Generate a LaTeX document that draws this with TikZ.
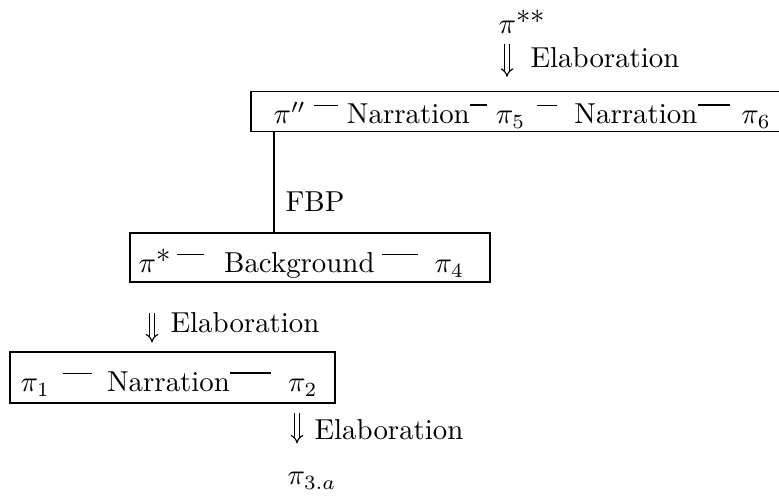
\documentclass[tikz,border=0pt]{standalone}
\usetikzlibrary{arrows.meta}
\begin{document}
\begin{tikzpicture}[x=0.3466pt, y=-0.3466pt,
  t/.style={anchor=base west, inner sep=0pt},
  box/.style={draw, line width=0.4pt, inner sep=0pt},
  dashln/.style={line width=0.45pt},
  dbl/.style={double, double distance=1.1pt, line width=0.4pt, -{Implies}},
  link/.style={line width=0.4pt}]
\useasboundingbox (0,0) rectangle (779,498);

% boxes
\node[box, minimum width=185.1pt, minimum height=13.9pt] (boxA) at (518,111.5) {};
\node[box, minimum width=124.8pt, minimum height=17.0pt] (boxB) at (310,257.5) {};
\node[box, minimum width=112.6pt, minimum height=17.7pt] (boxC) at (172.5,377.5) {};

% top
\node[t] (pss) at (498,34) {$\pi^{\textstyle **}$};
\node[t] (lab1) at (530,68) {Elaboration};
\coordinate (ax1) at (507,0);
\draw[dbl, shorten <=3.1pt, shorten >=4.85pt] (ax1 |- pss.south) -- (ax1 |- boxA.north);

% top box contents
\node[t] (a1) at (273,124) {$\pi''$};
\node[t] (a2) at ([xshift=13.86pt]a1.base east) {Narration};
\node[t] (a3) at ([xshift=8.67pt]a2.base east) {$\pi_5$};
\node[t] (a4) at ([xshift=16.64pt]a3.base east) {Narration};
\node[t] (a5) at ([xshift=14.9pt]a4.base east) {$\pi_6$};
\draw[dashln] ([xshift=2.6pt, yshift=6.4pt]a1.base east) -- ([xshift=-2.8pt, yshift=6.4pt]a2.base west);
\draw[dashln] ([yshift=6.6pt]a2.base east) -- ([xshift=-3.0pt, yshift=6.6pt]a3.base west);
\draw[dashln] ([xshift=3.8pt, yshift=6.4pt]a3.base east) -- ([xshift=-6.0pt, yshift=6.4pt]a4.base west);
\draw[dashln] ([yshift=6.6pt]a4.base east) -- ([xshift=-3.8pt, yshift=6.6pt]a5.base west);

% FBP link
\coordinate (fx) at (274,0);
\draw[link] (fx |- boxA.south) -- (fx |- boxB.north);
\node[t] (fbp) at (285,212) {FBP};

% middle box contents
\node[t] (b1) at (138,273) {$\pi^{\textstyle *}$};
\node[t] (b2) at ([xshift=17.7pt]b1.base east) {Background};
\node[t] (b3) at ([xshift=20.45pt]b2.base east) {$\pi_4$};
\draw[dashln] ([xshift=1.4pt, yshift=6.4pt]b1.base east) -- ([xshift=-6.9pt, yshift=6.4pt]b2.base west);
\draw[dashln] ([xshift=2.4pt, yshift=6.4pt]b2.base east) -- ([xshift=-5.6pt, yshift=6.4pt]b3.base west);

% middle arrow
\coordinate (ax2) at (152,0);
\draw[dbl, shorten <=10.4pt, shorten >=3.1pt] (ax2 |- boxB.south) -- (ax2 |- boxC.north);
\node[t] (lab2) at (170,333) {Elaboration};

% bottom box contents
\node[t] (c1) at (20,392) {$\pi_1$};
\node[t] (c2) at ([xshift=19.4pt]c1.base east) {Narration};
\node[t] (c3) at ([xshift=19.76pt]c2.base east) {$\pi_2$};
\draw[dashln] ([xshift=4.3pt, yshift=6.4pt]c1.base east) -- ([xshift=-5.0pt, yshift=6.4pt]c2.base west);
\draw[dashln] ([yshift=6.6pt]c2.base east) -- ([xshift=-5.6pt, yshift=6.6pt]c3.base west);

% bottom arrow
\node[t] (p3a) at (287,485) {$\pi_{3.a}$};
\coordinate (ax3) at (297,0);
\draw[dbl, shorten <=3.1pt, shorten >=9.9pt] (ax3 |- boxC.south) -- (ax3 |- p3a.north);
\node[t] (lab3) at (314,440) {Elaboration};
\end{tikzpicture}
\end{document}
